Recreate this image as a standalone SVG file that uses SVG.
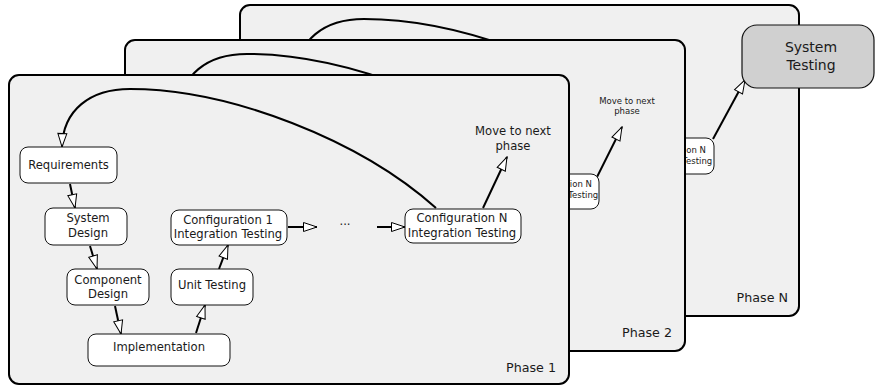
<svg xmlns="http://www.w3.org/2000/svg" width="875" height="385" viewBox="0 0 875 385">
<style>
.panel{fill:#f0f0f0;stroke:#000;stroke-width:2}
.node rect{fill:#fff;stroke:#111;stroke-width:1}
.t{font-family:"DejaVu Sans",sans-serif;font-size:11.6px;fill:#1a1a1a;text-anchor:middle}
.ts{font-family:"DejaVu Sans",sans-serif;font-size:8.5px;fill:#1a1a1a;text-anchor:middle}
.pl{font-family:"DejaVu Sans",sans-serif;font-size:12.7px;fill:#1a1a1a;text-anchor:end}
.c{fill:none;stroke:#000;stroke-width:2}
.a{marker-end:url(#ah)}
</style>
<defs>
<marker id="ah" markerUnits="userSpaceOnUse" markerWidth="16" markerHeight="12" viewBox="0 0 16 12" refX="14.5" refY="6" orient="auto">
<path d="M1,1.5 L14.5,6 L1,10.5 Z" fill="#fff" stroke="#000" stroke-width="1"/>
</marker>
<path id="loop" d="M436,208 C360,140 230,89 130,89 C90,89 63,110 62,147"/>
</defs>

<!-- Phase N -->
<g id="phaseN">
<rect class="panel" x="240" y="5" width="559" height="311" rx="10"/>
<text class="pl" x="788" y="302">Phase N</text>
</g>
<g id="phaseN-connectors">
<use href="#loop" class="c" transform="translate(234,-70)"/>
<path class="c a" d="M713,139 L745,80"/>
</g>
<g id="phaseN-configN" class="node">
<rect x="600" y="138" width="114" height="36" rx="8"/>
<text class="ts" x="672.5" y="153">Configuration N</text>
<text class="ts" x="672.5" y="164">Integration Testing</text>
</g>
<g id="system-testing">
<rect x="742" y="25" width="132" height="63" rx="15" fill="#d0d0d0" stroke="#111" stroke-width="1.2"/>
<text class="t" style="font-size:14px" x="811" y="52">System</text>
<text class="t" style="font-size:14px" x="811" y="70">Testing</text>
</g>

<!-- Phase 2 -->
<g id="phase2">
<rect class="panel" x="125" y="40" width="560" height="311" rx="10"/>
<text class="pl" x="672" y="337">Phase 2</text>
</g>
<g id="phase2-connectors">
<use href="#loop" class="c" transform="translate(117,-35)"/>
<path class="c a" d="M597,177 L622,127"/>
</g>
<g id="phase2-configN" class="node">
<rect x="500" y="174" width="99" height="35" rx="8"/>
<text class="ts" x="558.5" y="187">Configuration N</text>
<text class="ts" x="558.5" y="198">Integration Testing</text>
</g>
<g id="phase2-next">
<text class="ts" x="627" y="104">Move to next</text>
<text class="ts" x="627" y="114">phase</text>
</g>

<!-- Phase 1 -->
<g id="phase1">
<rect class="panel" x="9" y="75" width="560" height="309" rx="10"/>
<text class="pl" x="556" y="372">Phase 1</text>
</g>
<g id="phase1-connectors">
<use href="#loop" class="c a"/>
<path class="c a" d="M70,184 L75,208"/>
<path class="c a" d="M90,246 L97,269"/>
<path class="c a" d="M115,306 L121,334"/>
<path class="c a" d="M196,333 L205,305"/>
<path class="c a" d="M219,269 L228,245"/>
<path class="c a" d="M288,227 L317,227"/>
<path class="c a" d="M377,227 L405,227"/>
<path class="c a" d="M483,208 L507,157"/>
</g>
<g id="requirements" class="node">
<rect x="20" y="147" width="97" height="36" rx="8"/>
<text class="t" x="68.5" y="169">Requirements</text>
</g>
<g id="system-design" class="node">
<rect x="45" y="208" width="82" height="37" rx="8"/>
<text class="t" x="88" y="222">System</text>
<text class="t" x="88" y="237">Design</text>
</g>
<g id="component-design" class="node">
<rect x="67" y="269" width="82" height="36" rx="8"/>
<text class="t" x="108" y="284">Component</text>
<text class="t" x="108" y="298">Design</text>
</g>
<g id="implementation" class="node">
<rect x="88" y="334" width="142" height="32" rx="8"/>
<text class="t" x="159" y="351">Implementation</text>
</g>
<g id="unit-testing" class="node">
<rect x="171" y="269" width="82" height="36" rx="8"/>
<text class="t" x="212" y="289">Unit Testing</text>
</g>
<g id="config1" class="node">
<rect x="171" y="210" width="116" height="35" rx="8"/>
<text class="t" x="228" y="224">Configuration 1</text>
<text class="t" x="228" y="238">Integration Testing</text>
</g>
<g id="ellipsis">
<text class="t" x="345" y="225">...</text>
</g>
<g id="configN" class="node">
<rect x="405" y="209" width="116" height="34" rx="8"/>
<text class="t" x="462" y="222">Configuration N</text>
<text class="t" x="462" y="237">Integration Testing</text>
</g>
<g id="next-phase">
<text class="t" x="513" y="135">Move to next</text>
<text class="t" x="513" y="150">phase</text>
</g>
</svg>
